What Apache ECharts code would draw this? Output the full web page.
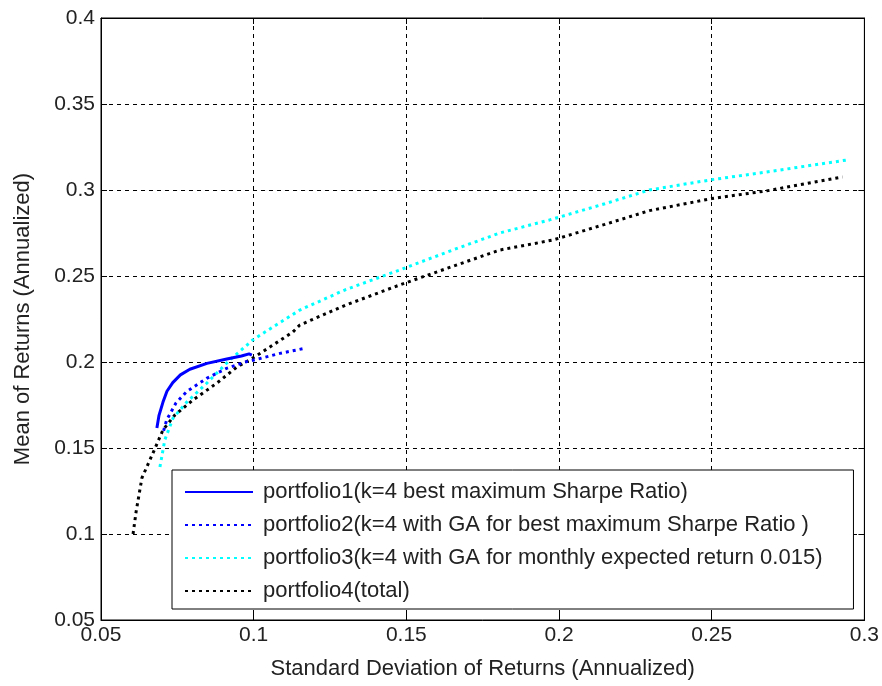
<!DOCTYPE html>
<html>
<head>
<meta charset="utf-8">
<script src="https://cdn.jsdelivr.net/npm/echarts@6/dist/echarts.min.js"></script>
<style>
  html, body { margin: 0; padding: 0; background: #fff; }
  #chart { width: 882px; height: 686px; }
</style>
</head>
<body>
<div id="chart"></div>
<script>
// portfolio1 (k=4 best maximum Sharpe Ratio)
var p1X = [0.0683, 0.0690, 0.0703, 0.0716, 0.0735, 0.0760, 0.0791, 0.0847, 0.0912, 0.0960, 0.0985, 0.0994];
var p1Y = [0.1616, 0.1690, 0.1767, 0.1830, 0.1880, 0.1925, 0.1958, 0.1992, 0.2017, 0.2035, 0.2047, 0.2040];
// portfolio2 (k=4 with GA for best maximum Sharpe Ratio)
var p2X = [0.0705, 0.0715, 0.0745, 0.0780, 0.0846, 0.0911, 0.0977, 0.1020, 0.1086, 0.1168];
var p2Y = [0.1600, 0.1663, 0.1760, 0.1827, 0.1905, 0.1963, 0.2002, 0.2020, 0.2050, 0.2080];
// portfolio3 (k=4 with GA for monthly expected return 0.015)
var p3X = [0.0693, 0.0709, 0.0736, 0.0781, 0.0847, 0.0922, 0.0997, 0.1037, 0.1151, 0.1300, 0.1478, 0.1650, 0.1806, 0.1969, 0.2150, 0.2296, 0.2493, 0.2700, 0.2941];
var p3Y = [0.1390, 0.1547, 0.1674, 0.1767, 0.1878, 0.2012, 0.2128, 0.2174, 0.2302, 0.2420, 0.2535, 0.2650, 0.2750, 0.2826, 0.2920, 0.3000, 0.3058, 0.3110, 0.3174];
// portfolio4 (total)
var p4X = [0.0605, 0.0615, 0.0634, 0.0670, 0.0703, 0.0742, 0.0801, 0.0880, 0.0945, 0.0997, 0.1053, 0.1128, 0.1151, 0.1300, 0.1478, 0.1650, 0.1806, 0.1979, 0.2150, 0.2296, 0.2500, 0.2680, 0.2928];
var p4Y = [0.1000, 0.1130, 0.1326, 0.1470, 0.1605, 0.1692, 0.1779, 0.1878, 0.1971, 0.2023, 0.2087, 0.2174, 0.2215, 0.2330, 0.2448, 0.2555, 0.2651, 0.2709, 0.2800, 0.2880, 0.2950, 0.2995, 0.3076];

var seriesNames = [
    'portfolio1(k=4 best maximum Sharpe Ratio)',
    'portfolio2(k=4 with GA for best maximum Sharpe Ratio )',
    'portfolio3(k=4 with GA for monthly expected return 0.015)',
    'portfolio4(total)'
];

function pairs(xs, ys) {
    return xs.map(function (x, i) { return [x, ys[i]]; });
}

var font = 'Liberation Sans, Arial, sans-serif';
var textColor = '#222';

var chart = echarts.init(document.getElementById('chart'));
chart.setOption({
    animation: false,
    backgroundColor: '#fff',
    grid: {
        left: 101, right: 17, top: 18, bottom: 66,
        show: true,
        borderColor: '#000',
        borderWidth: 1
    },
    legend: {
        orient: 'vertical',
        left: 172,
        top: 470,
        padding: [11, 31, 7, 12],
        itemWidth: 68,
        itemHeight: 14,
        itemGap: 11,
        borderColor: '#000',
        borderWidth: 1,
        borderRadius: 0,
        backgroundColor: '#fff',
        itemStyle: { opacity: 0 },
        textStyle: { fontFamily: font, fontSize: 22, color: textColor, padding: [0, 0, 0, 5] },
        data: seriesNames
    },
    xAxis: [{
        type: 'value',
        min: 0.05, max: 0.3, interval: 0.05,
        name: 'Standard Deviation of Returns (Annualized)',
        nameLocation: 'middle',
        nameGap: 38,
        nameTextStyle: { fontFamily: font, fontSize: 22, color: textColor },
        axisLine: { show: true, lineStyle: { color: '#000' } },
        axisTick: { show: true, inside: true, length: 6, lineStyle: { color: '#000' } },
        axisLabel: { fontFamily: font, fontSize: 21, color: textColor, margin: 5 },
        splitLine: { show: true, lineStyle: { color: '#000', type: [4, 4], width: 1 } }
    }, {
        type: 'value',
        position: 'top',
        min: 0.05, max: 0.3, interval: 0.05,
        axisLine: { show: true, lineStyle: { color: '#000' } },
        axisTick: { show: true, inside: true, length: 6, lineStyle: { color: '#000' } },
        axisLabel: { show: false },
        splitLine: { show: false }
    }],
    yAxis: [{
        type: 'value',
        min: 0.05, max: 0.4, interval: 0.05,
        name: 'Mean of Returns (Annualized)',
        nameLocation: 'middle',
        nameGap: 67,
        nameTextStyle: { fontFamily: font, fontSize: 22, color: textColor },
        axisLine: { show: true, lineStyle: { color: '#000' } },
        axisTick: { show: true, inside: true, length: 6, lineStyle: { color: '#000' } },
        axisLabel: { fontFamily: font, fontSize: 21, color: textColor, margin: 6 },
        splitLine: { show: true, lineStyle: { color: '#000', type: [4, 4], width: 1 } }
    }, {
        type: 'value',
        position: 'right',
        min: 0.05, max: 0.4, interval: 0.05,
        axisLine: { show: true, lineStyle: { color: '#000' } },
        axisTick: { show: true, inside: true, length: 6, lineStyle: { color: '#000' } },
        axisLabel: { show: false },
        splitLine: { show: false }
    }],
    series: [
        {
            name: seriesNames[0], type: 'line', symbol: 'none', z: 5,
            itemStyle: { color: '#0000ff' },
            lineStyle: { color: '#0000ff', width: 3 },
            data: pairs(p1X, p1Y)
        },
        {
            name: seriesNames[1], type: 'line', symbol: 'none', z: 4,
            itemStyle: { color: '#0000ff' },
            lineStyle: { color: '#0000ff', width: 3, type: [3, 4] },
            data: pairs(p2X, p2Y)
        },
        {
            name: seriesNames[2], type: 'line', symbol: 'none', z: 3,
            itemStyle: { color: '#00ffff' },
            lineStyle: { color: '#00ffff', width: 3, type: [3, 4] },
            data: pairs(p3X, p3Y)
        },
        {
            name: seriesNames[3], type: 'line', symbol: 'none', z: 2,
            itemStyle: { color: '#000000' },
            lineStyle: { color: '#000000', width: 3, type: [3, 4] },
            data: pairs(p4X, p4Y)
        }
    ]
});
</script>
</body>
</html>
